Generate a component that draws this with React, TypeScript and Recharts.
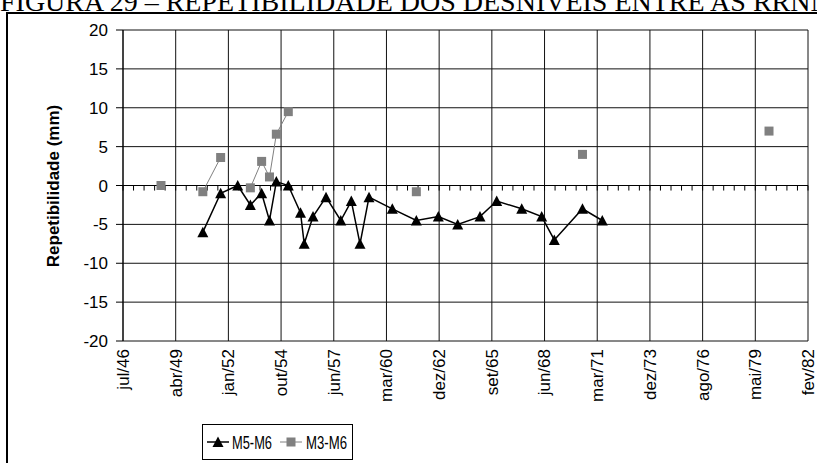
import React from 'react';
import { LineChart, Line, XAxis, YAxis, CartesianGrid, ReferenceLine } from 'recharts';

// ─── data ────────────────────────────────────────────────────────────────
// dates of the levelling campaigns (approx.) and repeatability in mm

const m5Dates = [
    '1950-09-09', '1951-08-13', '1952-07-02', '1953-02-27', '1953-09-29',
    '1954-02-25', '1954-07-05', '1955-02-17', '1955-10-07', '1955-12-16',
    '1956-05-31', '1957-02-02', '1957-11-09', '1958-05-28', '1958-11-09',
    '1959-04-29', '1960-07-14', '1961-10-13', '1962-12-04', '1963-12-07',
    '1965-02-02', '1965-12-16', '1967-04-05', '1968-04-18', '1968-12-13',
    '1970-06-01', '1971-06-12',
];
const m5Values = [
    -6, -1, 0, -2.5, -1,
    -4.5, 0.5, 0, -3.5, -7.5,
    -4, -1.5, -4.5, -2, -7.5,
    -1.5, -3, -4.5, -4, -5,
    -4, -2, -3, -4, -7,
    -3, -4.5,
];

// M3-M6 has gaps, so it is kept as separate runs of connected points
const m3Dates = [
    ['1948-07-07'],
    ['1950-09-09', '1951-08-13'],
    ['1953-02-27', '1953-09-29', '1954-02-25', '1954-07-05', '1955-02-17'],
    ['1961-10-13'],
    ['1970-06-01'],
    ['1980-02-09'],
];
const m3Values = [
    [0],
    [-0.8, 3.6],
    [-0.3, 3.1, 1.1, 6.6, 9.5],
    [-0.8],
    [4],
    [7],
];

const yTicks = [-20, -15, -10, -5, 0, 5, 10, 15, 20];
const monthNames = ['jan', 'fev', 'mar', 'abr', 'mai', 'jun', 'jul', 'ago', 'set', 'out', 'nov', 'dez'];

// x axis is in Excel date serials (days), like the original spreadsheet
const xStart = 17000;
const xEnd = 30000;
const xMajor = 1000;
const xMinor = 200;

// ─── helpers ─────────────────────────────────────────────────────────────

const toSerial = (s: string) => {
    const [y, m, d] = s.split('-').map(Number);
    return Date.UTC(y, m - 1, d) / 86400000 + 25569;
};

const fmtDate = (serial: number) => {
    const dt = new Date((serial - 25569) * 86400000);
    return monthNames[dt.getUTCMonth()] + '/' + String(dt.getUTCFullYear()).slice(2);
};

const range = (a: number, b: number, step: number) => {
    const out: number[] = [];
    for (let v = a; v <= b; v += step) out.push(v);
    return out;
};

const xTicks = range(xStart, xEnd, xMajor);
const minorTicks = range(xStart, xEnd, xMinor);

const m5Data = m5Dates.map((d, i) => ({ x: toSerial(d), v: m5Values[i] }));
const m3Runs = m3Dates.map((run, r) => run.map((d, i) => ({ x: toSerial(d), v: m3Values[r][i] })));

const FONT = '"Liberation Sans", Arial, sans-serif';

// ─── markers ─────────────────────────────────────────────────────────────

const TriangleDot = (props: any) => {
    const { cx, cy } = props;
    if (cx == null || cy == null) return null;
    return (
        <polygon
            points={`${cx},${cy - 5.5} ${cx - 5.5},${cy + 5} ${cx + 5.5},${cy + 5}`}
            fill="#000"
        />
    );
};

const SquareDot = (props: any) => {
    const { cx, cy } = props;
    if (cx == null || cy == null) return null;
    return <rect x={cx - 4.5} y={cy - 4.5} width={9} height={9} fill="#808080" />;
};

const DateTick = (props: any) => {
    const { x, y, payload } = props;
    return (
        <text
            x={x}
            y={y}
            dy="0.35em"
            textAnchor="end"
            transform={`rotate(-90, ${x}, ${y})`}
            fontSize={17}
            fontFamily={FONT}
            fill="#000"
        >
            {fmtDate(payload.value)}
        </text>
    );
};

// ─── chart ───────────────────────────────────────────────────────────────

export default function App() {
    return (
        <div
            style={{
                position: 'absolute',
                left: 0,
                top: 0,
                width: 817,
                height: 463,
                overflow: 'hidden',
                background: '#fff',
            }}
        >
            <LineChart
                width={817}
                height={463}
                margin={{ top: 30, right: 9, bottom: 62, left: 73 }}
            >
                <CartesianGrid stroke="#111" strokeWidth={1} />
                <XAxis
                    type="number"
                    dataKey="x"
                    domain={[xStart, xEnd]}
                    ticks={xTicks}
                    allowDataOverflow
                    axisLine={false}
                    tickLine={false}
                    tickSize={0}
                    tickMargin={8}
                    height={60}
                    interval={0}
                    tick={<DateTick />}
                />
                <YAxis
                    type="number"
                    domain={[-20, 20]}
                    ticks={yTicks}
                    width={50}
                    axisLine={{ stroke: '#000' }}
                    tickLine={{ stroke: '#000' }}
                    tickSize={7}
                    tickMargin={8}
                    tick={{ fontSize: 17, fontFamily: FONT, fill: '#000' }}
                    interval={0}
                />
                <ReferenceLine y={0} stroke="#000" strokeWidth={1} />
                {minorTicks.map((t) => (
                    <ReferenceLine
                        key={`minor-${t}`}
                        segment={[{ x: t, y: 0 }, { x: t, y: -0.65 }]}
                        stroke="#000"
                        strokeWidth={1}
                    />
                ))}

                {m3Runs.map((run, i) => (
                    <Line
                        key={`m3-${i}`}
                        data={run}
                        dataKey="v"
                        stroke="#808080"
                        strokeWidth={1}
                        dot={<SquareDot />}
                        activeDot={false}
                        isAnimationActive={false}
                    />
                ))}
                <Line
                    data={m5Data}
                    dataKey="v"
                    stroke="#000"
                    strokeWidth={1.5}
                    dot={<TriangleDot />}
                    activeDot={false}
                    isAnimationActive={false}
                />
            </LineChart>

            {/* frame, title, axis title and legend drawn over the chart */}
            <svg
                width={817}
                height={463}
                style={{ position: 'absolute', left: 0, top: 0, pointerEvents: 'none' }}
            >
                <text x={0} y={11} fontSize={28} fontFamily='"Liberation Serif", "Times New Roman", serif'>
                    FIGURA 29 – REPETIBILIDADE DOS DESNÍVEIS ENTRE AS RRNN
                </text>
                <rect x={7} y={13} width={900} height={600} fill="none" stroke="#000" strokeWidth={2} />

                <text
                    x={53}
                    y={186}
                    transform="rotate(-90, 53, 186)"
                    textAnchor="middle"
                    dy="0.35em"
                    fontSize={17}
                    fontWeight="bold"
                    fontFamily={FONT}
                >
                    Repetibilidade (mm)
                </text>

                <rect x={202.5} y={424.5} width={150} height={35} fill="#fff" stroke="#000" strokeWidth={1} />
                <line x1={207} y1={442} x2={229} y2={442} stroke="#000" strokeWidth={1.5} />
                <polygon points="218,436.5 212.5,447 223.5,447" fill="#000" />
                <text x={232} y={448.5} fontSize={18} fontFamily={FONT} textLength={40} lengthAdjust="spacingAndGlyphs">
                    M5-M6
                </text>
                <line x1={280} y1={442} x2={302} y2={442} stroke="#808080" strokeWidth={1} />
                <rect x={286.5} y={437.5} width={9} height={9} fill="#808080" />
                <text x={306} y={448.5} fontSize={18} fontFamily={FONT} textLength={41} lengthAdjust="spacingAndGlyphs">
                    M3-M6
                </text>
            </svg>
        </div>
    );
}
